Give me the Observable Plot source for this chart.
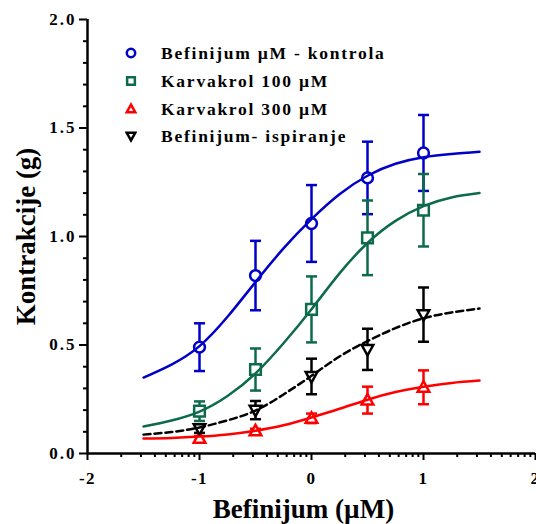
<!DOCTYPE html>
<html>
<head>
<meta charset="utf-8">
<script src="https://cdn.jsdelivr.net/npm/d3@7"></script>
<script src="https://cdn.jsdelivr.net/npm/@observablehq/plot@0.6"></script>
<style>
  html, body { margin: 0; padding: 0; background: #fff; }
  #wrap { position: relative; width: 536px; height: 524px; }
  #legend { position: absolute; left: 0; top: 0; font-family: "Liberation Serif", "Times New Roman", serif; font-weight: bold; font-size: 17.5px; letter-spacing: 1.75px; }
  .row { position: absolute; white-space: nowrap; display: flex; align-items: center; height: 20px; }
  .row svg { margin-right: 24px; }
</style>
</head>
<body>
<div id="wrap"><div id="legend"></div></div>
<script>
// ---- data ----
const seriesNames = ["Befinijum µM - kontrola", "Karvakrol 100 µM", "Karvakrol 300 µM", "Befinijum- ispiranje"];
const seriesColors = ["#0000c8", "#0d6b4b", "#ff0000", "#000000"];
const doses = [-1, -0.5, 0, 0.5, 1];

const meanKontrola = [0.49, 0.82, 1.06, 1.27, 1.385];
const semKontrola  = [0.11, 0.16, 0.177, 0.167, 0.175];
const meanKarv100  = [0.195, 0.387, 0.664, 0.994, 1.121];
const semKarv100   = [0.045, 0.097, 0.152, 0.172, 0.167];
const meanKarv300  = [0.07, 0.104, 0.162, 0.246, 0.305];
const semKarv300   = [0.01, 0.01, 0.022, 0.062, 0.078];
const meanIspiranje = [0.115, 0.20, 0.355, 0.48, 0.64];
const semIspiranje  = [0.02, 0.042, 0.082, 0.095, 0.125];

// fitted curves
const curveX = [-1.5, -1.25, -1, -0.75, -0.5, -0.25, 0, 0.25, 0.5, 0.75, 1, 1.25, 1.5];
const curveKontrola  = [0.35, 0.41, 0.495, 0.63, 0.79, 0.945, 1.08, 1.195, 1.28, 1.335, 1.365, 1.38, 1.39];
const curveKarv100   = [0.124, 0.152, 0.193, 0.265, 0.369, 0.508, 0.665, 0.83, 0.97, 1.072, 1.14, 1.18, 1.2];
const curveKarv300   = [0.069, 0.072, 0.078, 0.088, 0.105, 0.13, 0.166, 0.206, 0.248, 0.283, 0.308, 0.325, 0.336];
const curveIspiranje = [0.087, 0.099, 0.12, 0.153, 0.198, 0.272, 0.358, 0.447, 0.518, 0.578, 0.623, 0.65, 0.668];

const xTicks = [-2, -1, 0, 1, 2];
const yTicks = [0, 0.5, 1.0, 1.5, 2.0];
const yMinorTicks = [0.1, 0.2, 0.3, 0.4, 0.6, 0.7, 0.8, 0.9, 1.1, 1.2, 1.3, 1.4, 1.6, 1.7, 1.8, 1.9];
const xMinorTicks = [-2, -1, 0, 1].flatMap(d => [2, 3, 4, 5, 6, 7, 8, 9].map(k => d + Math.log10(k)));

// ---- build tables ----
const means = [meanKontrola, meanKarv100, meanKarv300, meanIspiranje];
const sems = [semKontrola, semKarv100, semKarv300, semIspiranje];
const curves = [curveKontrola, curveKarv100, curveKarv300, curveIspiranje];
const points = seriesNames.flatMap((s, i) => doses.map((x, j) => ({series: s, x, y: means[i][j], lo: means[i][j] - sems[i][j], hi: means[i][j] + sems[i][j]})));
const curveRows = seriesNames.flatMap((s, i) => curveX.map((x, j) => ({series: s, x, y: curves[i][j]})));

// ---- symbols ----
const rad = size => Math.sqrt(size / Math.PI);
const symCircle = {draw(c, size) { const r = rad(size); c.moveTo(r, 0); c.arc(0, 0, r, 0, 2 * Math.PI); c.closePath(); }};
const symSquare = {draw(c, size) { const r = rad(size) * 0.92; c.moveTo(-r, -r); c.lineTo(r, -r); c.lineTo(r, r); c.lineTo(-r, r); c.closePath(); }};
const symTriUp = {draw(c, size) { const r = rad(size); c.moveTo(0, -r * 1.05); c.lineTo(r, r * 0.75); c.lineTo(-r, r * 0.75); c.closePath(); }};
const symTriDown = {draw(c, size) { const r = rad(size); c.moveTo(0, r * 1.05); c.lineTo(r, -r * 0.75); c.lineTo(-r, -r * 0.75); c.closePath(); }};
const symCap = {draw(c, size) { const r = rad(size); c.moveTo(-r, 0); c.lineTo(r, 0); }};
const symbols = [symCircle, symSquare, symTriUp, symTriDown];

const font = "'Liberation Serif', 'Times New Roman', serif";

const marks = [];
seriesNames.forEach((s, i) => {
  const pts = points.filter(d => d.series === s);
  const col = seriesColors[i];
  marks.push(Plot.ruleX(pts, {x: "x", y1: "lo", y2: "hi", stroke: col, strokeWidth: 2.5}));
  marks.push(Plot.dot(pts, {x: "x", y: "hi", symbol: symCap, r: 5.5, stroke: col, strokeWidth: 2.5}));
  marks.push(Plot.dot(pts, {x: "x", y: "lo", symbol: symCap, r: 5.5, stroke: col, strokeWidth: 2.5}));
});
seriesNames.forEach((s, i) => {
  const pts = points.filter(d => d.series === s);
  marks.push(Plot.dot(pts, {x: "x", y: "y", symbol: symbols[i], r: i === 0 ? 5.4 : 5.8, stroke: seriesColors[i], fill: "white", strokeWidth: 2.5}));
});
seriesNames.forEach((s, i) => {
  marks.push(Plot.line(curveRows.filter(d => d.series === s), {x: "x", y: "y", curve: "natural", stroke: seriesColors[i], strokeWidth: 2.5, strokeDasharray: i === 3 ? "7,4" : null}));
});

// axes
marks.push(
  Plot.axisY(yTicks, {tickSize: 8, tickPadding: 3, tickFormat: d3.format(".1f"), fontSize: 17, strokeWidth: 2, label: null}),
  Plot.axisY(yMinorTicks, {tickSize: 4, tickFormat: null, text: null, strokeWidth: 2, label: null}),
  Plot.axisX(xTicks, {tickSize: 7, tickPadding: 11, tickFormat: d => String(d), fontSize: 17, strokeWidth: 2, label: null}),
  Plot.axisX(xMinorTicks, {tickSize: 4, tickFormat: null, text: null, strokeWidth: 2, label: null}),
  Plot.ruleX([-2], {y1: 0, y2: 2, strokeWidth: 2.5}),
  Plot.ruleY([0], {x1: -2, x2: 2, strokeWidth: 2.5}),
  Plot.text(["Kontrakcije (g)"], {frameAnchor: "left", textAnchor: "middle", lineAnchor: "middle", rotate: -90, dx: -61, fontSize: 27}),
  Plot.text(["Befinijum (µM)"], {frameAnchor: "bottom", textAnchor: "middle", lineAnchor: "middle", dy: 56, dx: -8, fontSize: 27})
);

const chart = Plot.plot({
  width: 536,
  height: 524,
  marginLeft: 87,
  marginRight: 1,
  marginTop: 19,
  marginBottom: 71,
  style: {fontFamily: font, fontWeight: "bold", background: "white", overflow: "visible"},
  x: {domain: [-2, 2], axis: null},
  y: {domain: [0, 2], axis: null},
  marks
});
document.getElementById("wrap").prepend(chart);
d3.select(chart).selectAll('g[aria-label="y-axis tick label"] text').style("letter-spacing", "2px");
d3.select(chart).selectAll('g[aria-label="x-axis tick label"] text').style("letter-spacing", "1.5px");

// legend
const legend = document.getElementById("legend");
const rowsY = [53, 81, 109, 136];
seriesNames.forEach((s, i) => {
  const row = document.createElement("div");
  row.className = "row";
  row.style.left = "125px";
  row.style.top = (rowsY[i] - 10) + "px";
  const sz = d3.select(row).append("svg").attr("width", 12).attr("height", 14);
  const path = d3.path();
  symbols[i].draw(path, Math.PI * 4.2 * 4.2);
  sz.append("path").attr("d", path.toString()).attr("transform", "translate(6,7)")
    .attr("fill", "none").attr("stroke", seriesColors[i]).attr("stroke-width", 2.5);
  const t = document.createElement("span");
  t.textContent = s;
  row.appendChild(t);
  legend.appendChild(row);
});
</script>
</body>
</html>
